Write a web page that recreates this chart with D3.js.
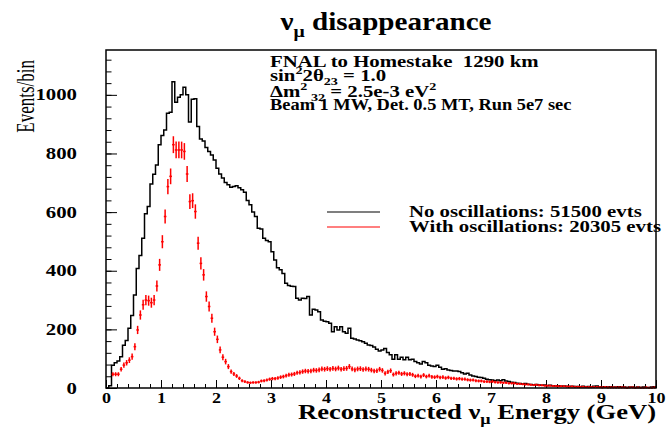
<!DOCTYPE html>
<html lang="en">
<head>
<meta charset="UTF-8">
<title>nu_mu disappearance</title>
<script src="https://d3js.org/d3.v7.min.js"></script>
<style>
  body { margin: 0; background: #fff; }
  svg text { font-family: "Liberation Serif", "Times New Roman", serif; font-weight: bold; fill: #000; }
</style>
</head>
<body>
<svg width="667" height="427"></svg>
<script>
// 200 bins of 0.05 GeV from 0 to 10 GeV
var binWidth = 0.05;

// events per bin without oscillations (black histogram)
var noOsc = [
  0, 8, 78, 86, 92, 107, 146, 162, 204, 247,
  317, 408, 452, 511, 594, 619, 696, 729, 761, 830,
  861, 880, 937, 941, 1045, 975, 992, 1000, 1026, 1000,
  907, 985, 987, 892, 849, 843, 820, 807, 795, 778,
  750, 730, 716, 701, 693, 685, 687, 690, 683, 676,
  668, 640, 625, 600, 585, 545, 542, 511, 503, 499,
  465, 437, 410, 403, 391, 357, 350, 347, 346, 306,
  300, 306, 305, 312, 249, 269, 266, 260, 232, 228,
  226, 221, 192, 209, 198, 209, 192, 187, 204, 170,
  167, 164, 161, 158, 153, 147, 145, 140, 132, 126,
  130, 135, 121, 113, 98, 113, 98, 105, 96, 105,
  96, 98, 90, 86, 82, 90, 86, 78, 75, 73,
  78, 71, 64, 66, 61, 60, 58, 58, 56, 52,
  48, 50, 44, 41, 39, 37, 36, 33, 30, 28,
  27, 25, 27, 25, 28, 24, 22, 20, 19, 16,
  15, 14, 15, 13, 12, 11, 12, 10, 9, 10,
  8, 9, 8, 7, 8, 6, 7, 6, 5, 6,
  5, 5, 4, 6, 4, 5, 4, 6, 7, 4,
  3, 4, 3, 4, 3, 3, 4, 3, 3, 2,
  3, 3, 2, 3, 2, 3, 2, 2, 3, 4
];

// events per bin with oscillations (red points with errors)
var withOsc = [
  0, 0, 47, 47, 47, 64, 78, 86, 95, 107,
  141, 198, 249, 284, 300, 298, 291, 300, 348, 420,
  499, 585, 687, 722, 830, 812, 812, 812, 807, 730,
  636, 639, 602, 494, 425, 386, 312, 278, 238, 192,
  166, 130, 105, 90, 73, 56, 48, 41, 33, 25,
  22, 19, 18, 19, 19, 20, 24, 25, 27, 30,
  32, 32, 34, 37, 39, 42, 45, 46, 48, 52,
  53, 56, 58, 57, 58, 61, 60, 62, 65, 64,
  66, 64, 67, 65, 68, 64, 66, 67, 73, 65,
  62, 65, 66, 63, 65, 64, 61, 58, 59, 64,
  60, 50, 55, 59, 46, 50, 52, 48, 50, 47,
  48, 45, 40, 42, 39, 44, 39, 42, 38, 37,
  39, 36, 37, 34, 36, 33, 33, 31, 32, 30,
  30, 28, 27, 27, 25, 24, 24, 22, 22, 21,
  22, 20, 19, 19, 18, 18, 16, 16, 16, 14,
  14, 13, 12, 12, 11, 10, 11, 9, 9, 8,
  8, 8, 7, 7, 6, 6, 6, 5, 5, 5,
  4, 4, 4, 4, 3, 3, 3, 3, 3, 3,
  2, 3, 2, 2, 2, 2, 2, 2, 2, 1,
  2, 2, 1, 2, 1, 1, 2, 1, 1, 2
];

var xTicks = [0, 1, 2, 3, 4, 5, 6, 7, 8, 9, 10];
var yTicks = [0, 200, 400, 600, 800, 1000];
var infoLines = [
  [{t: "FNAL to Homestake  1290 km"}],
  [{t: "sin"}, {t: "2", s: "sup"}, {t: "2\u03b8"}, {t: "23", s: "sub"}, {t: " = 1.0"}],
  [{t: "\u0394m"}, {t: "2", s: "sup"}, {t: " 32", s: "sub"}, {t: " = 2.5e-3 eV"}, {t: "2", s: "sup"}],
  [{t: "Beam 1 MW, Det. 0.5 MT, Run 5e7 sec"}]
];
var legendLabels = ["No oscillations: 51500 evts", "With oscillations: 20305 evts"];
var legendColors = ["#000000", "#ff0000"];

var margin = {top: 50, right: 11, bottom: 39, left: 106},
    width = 667 - margin.left - margin.right,
    height = 427 - margin.top - margin.bottom;

var svg = d3.select("svg");
var g = svg.append("g")
    .attr("transform", "translate(" + margin.left + "," + margin.top + ")");

var x = d3.scaleLinear().domain([0, 10]).range([0, width]);
var y = d3.scaleLinear().domain([0, 1153]).range([height, 0]);

// the original picture is stretched sideways, so glyphs get a horizontal scale
function stretched(px, py, sx, size) {
  return svg.append("text")
    .attr("transform", "translate(" + px + "," + py + ") scale(" + sx + ",1)")
    .style("font-size", size + "px")
    .style("white-space", "pre");
}

// write text made of plain / superscript / subscript pieces
function rich(sel, parts, size) {
  var shift = 0;
  parts.forEach(function(p) {
    var target = p.s === "sup" ? -0.42 * size : p.s === "sub" ? 0.25 * size : 0;
    sel.append("tspan")
      .attr("dy", target - shift)
      .style("font-size", (p.s ? 0.68 * size : size) + "px")
      .text(p.t);
    shift = target;
  });
}

// axes (ticks inside the frame, ROOT style)
g.append("g")
    .attr("transform", "translate(0," + height + ")")
    .call(d3.axisBottom(x).tickValues(xTicks).tickFormat(d3.format("d"))
      .tickSizeInner(-8).tickSizeOuter(0).tickPadding(4))
    .selectAll(".tick text").attr("transform", "scale(1.2,1)").style("font-size", "15px");
g.append("g")
    .attr("transform", "translate(0," + height + ")")
    .call(d3.axisBottom(x).tickValues(d3.range(0, 50).map(function(i) { return i * 0.2; }))
      .tickSizeInner(-4).tickSizeOuter(0).tickFormat(""));
g.append("g")
    .call(d3.axisLeft(y).tickValues(yTicks).tickFormat(d3.format("d"))
      .tickSizeInner(-11).tickSizeOuter(0).tickPadding(22.3))
    .selectAll(".tick text").attr("transform", "scale(1.3,1)").style("font-size", "16px");
g.append("g")
    .call(d3.axisLeft(y).tickValues(d3.range(0, 29).map(function(i) { return i * 40; }))
      .tickSizeInner(-5.5).tickSizeOuter(0).tickFormat(""));
g.selectAll(".domain").remove();
g.selectAll(".tick line").attr("stroke", "#000").attr("stroke-width", 1);
g.selectAll(".tick text")
    .style("font-family", '"Liberation Serif", serif')
    .style("font-weight", "bold")
    .attr("fill", "#000");

// black histogram
var stepPts = noOsc.map(function(v, i) { return [i * binWidth, v]; });
stepPts.push([10, noOsc[noOsc.length - 1]]);
g.append("path")
    .datum(stepPts)
    .attr("fill", "none")
    .attr("stroke", "#000")
    .attr("stroke-width", 1.5)
    .attr("d", d3.line()
      .x(function(d) { return x(d[0]); })
      .y(function(d) { return y(d[1]); })
      .curve(d3.curveStepAfter));

// red points with sqrt(N) error bars
var pts = g.append("g").attr("stroke", "#ff0000").attr("stroke-width", 1.5);
withOsc.forEach(function(v, i) {
  if (v <= 0) return;
  var cx = x((i + 0.5) * binWidth);
  var e = Math.sqrt(v);
  var y0 = y(v - e), y1 = y(v + e);
  if (y0 - y1 < 2) { y0 = y(v) + 1; y1 = y(v) - 1; }
  pts.append("line").attr("x1", cx).attr("x2", cx).attr("y1", y0).attr("y2", y1);
  pts.append("line").attr("x1", cx - 1.3).attr("x2", cx + 1.3).attr("y1", y(v)).attr("y2", y(v));
});

// frame
g.append("rect")
    .attr("width", width).attr("height", height)
    .attr("fill", "none").attr("stroke", "#000").attr("stroke-width", 1.5);

// title
var title = stretched(386, 30, 1.12, 26).attr("text-anchor", "middle");
rich(title, [{t: "\u03bd"}, {t: "\u03bc", s: "sub"}, {t: " disappearance"}], 26);

// axis titles
var xt = stretched(656, 419, 1.33, 20).attr("text-anchor", "end");
rich(xt, [{t: "Reconstructed \u03bd"}, {t: "\u03bc", s: "sub"}, {t: " Energy (GeV)"}], 20);

svg.append("text")
    .attr("transform", "translate(34,60) rotate(-90) scale(1,1.45)")
    .attr("text-anchor", "end")
    .style("font-weight", "normal")
    .style("font-size", "17px")
    .text("Events/bin");

// info text
var infoY = [67, 81, 97, 110];
var infoSx = [1.3, 1.3, 1.3, 1.15];
infoLines.forEach(function(parts, i) {
  rich(stretched(270, infoY[i], infoSx[i], 16), parts, 16);
});

// legend
legendLabels.forEach(function(lab, i) {
  var ly = 212 + i * 15;
  svg.append("line")
      .attr("x1", 327).attr("x2", 380).attr("y1", ly).attr("y2", ly)
      .attr("stroke", legendColors[i]).attr("stroke-width", 1.2);
  stretched(409, ly + 5, 1.3, 16).text(lab);
});
</script>
</body>
</html>
